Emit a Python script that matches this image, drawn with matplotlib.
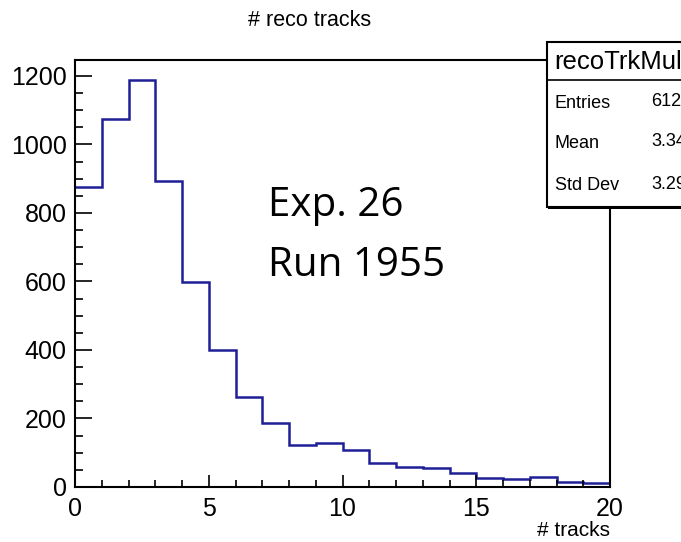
import matplotlib.pyplot as plt
import numpy as np
from matplotlib.ticker import MultipleLocator

# number of reconstructed tracks per event, 1-wide bins from 0 to 20
bin_edges = np.arange(0, 21)
counts = [876, 1073, 1187, 893, 597, 401, 264, 188, 123, 127,
          107, 71, 58, 54, 40, 27, 23, 30, 14, 12]

stat_names = ["Entries", "Mean", "Std Dev"]
stat_values = ["6123", "3.342", "3.293"]

plt.rcParams['font.family'] = ['Liberation Sans', 'DejaVu Sans']

W, H = 681, 542
fig = plt.figure(figsize=(W / 100, H / 100), dpi=100)
ax = fig.add_axes([75 / W, 1 - 487 / H, 535 / W, 427 / H])

ax.stairs(counts, bin_edges, color='#1f1f96', linewidth=1.8, baseline=None)

ax.set_xlim(0, 20)
ax.set_ylim(0, 1.05 * max(counts))
ax.xaxis.set_major_locator(MultipleLocator(5))
ax.xaxis.set_minor_locator(MultipleLocator(1))
ax.yaxis.set_major_locator(MultipleLocator(200))
ax.yaxis.set_minor_locator(MultipleLocator(50))
ax.tick_params(which='both', direction='in', top=False, right=False,
               labelsize=18, width=1.2)
ax.tick_params(axis='x', which='major', length=8.5, pad=7)
ax.tick_params(axis='x', which='minor', length=5)
ax.tick_params(axis='y', which='major', length=12, pad=6)
ax.tick_params(axis='y', which='minor', length=6)
for s in ax.spines.values():
    s.set_linewidth(1.5)

fig.text(310 / W, 1 - 20 / H, "# reco tracks", fontsize=15.5,
         ha='center', va='center')
ax.set_xlabel("# tracks", fontsize=15, loc='right', labelpad=0.5)

run_font = ['Open Sans', 'DejaVu Sans']
fig.text(268 / W, 1 - 216 / H, "Exp. 26", fontsize=29, family=run_font,
         va='baseline', ha='left')
fig.text(268 / W, 1 - 276 / H, "Run 1955", fontsize=29, family=run_font,
         va='baseline', ha='left')

# stats box, partly running off the right edge
bx0, bx1 = 547 / W, 1.05
by0, by1 = 1 - 207 / H, 1 - 42 / H
hy = 1 - 80 / H
fig.patches.append(plt.Rectangle((bx0 + 0.002, by0 - 0.003), bx1 - bx0, by1 - by0,
                                 transform=fig.transFigure, facecolor='black',
                                 edgecolor='none', zorder=5))
fig.patches.append(plt.Rectangle((bx0, by0), bx1 - bx0, by1 - by0,
                                 transform=fig.transFigure, facecolor='white',
                                 edgecolor='black', linewidth=1.5, zorder=6))
fig.lines.append(plt.Line2D([bx0, bx1], [hy, hy], transform=fig.transFigure,
                            color='black', linewidth=1.2, zorder=7))
fig.text(554 / W, 1 - 62 / H, "recoTrkMult", fontsize=18.5, va='center',
         ha='left', zorder=8)
row_y = [103, 144, 186]
for name, val, y in zip(stat_names, stat_values, row_y):
    fig.text(555 / W, 1 - y / H, name, fontsize=13, va='center',
             ha='left', zorder=8)
    fig.text(651 / W, 1 - (y - 2) / H, val, fontsize=13, va='center',
             ha='left', zorder=8)

fig.savefig("out.png", dpi=100)
